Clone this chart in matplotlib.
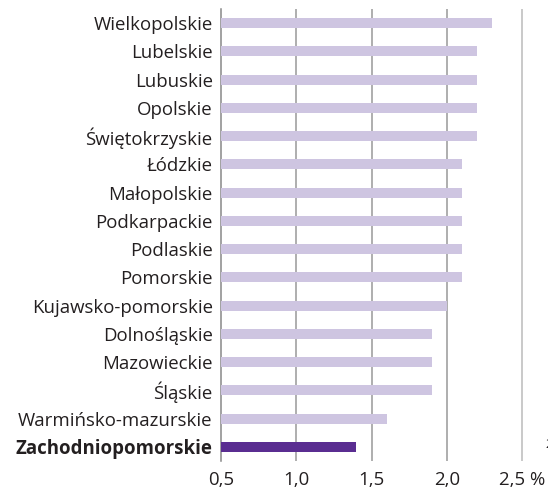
import matplotlib

matplotlib.use("Agg")
import matplotlib.pyplot as plt
import numpy as np

regions = [
    "Wielkopolskie", "Lubelskie", "Lubuskie", "Opolskie", "Świętokrzyskie",
    "Łódzkie", "Małopolskie", "Podkarpackie", "Podlaskie", "Pomorskie",
    "Kujawsko-pomorskie", "Dolnośląskie", "Mazowieckie", "Śląskie",
    "Warmińsko-mazurskie", "Zachodniopomorskie",
]
values = [2.3, 2.2, 2.2, 2.2, 2.2, 2.1, 2.1, 2.1, 2.1, 2.1,
          2.0, 1.9, 1.9, 1.9, 1.6, 1.4]
highlight = "Zachodniopomorskie"
xticks = [0.5, 1.0, 1.5, 2.0, 2.5]
xtick_labels = ["0,5", "1,0", "1,5", "2,0", "2,5 %"]

LIGHT = "#CEC5E1"
DARK = "#5A2D91"
FS = 13.4

plt.rcParams["font.family"] = ["Open Sans", "DejaVu Sans"]

fig = plt.figure(figsize=(5.48, 4.91), dpi=100)
ax = fig.add_axes([221 / 548, 1 - 461 / 491, (548 - 221) / 548, (461 - 9) / 491])

y = np.arange(len(regions))
colors = [DARK if r == highlight else LIGHT for r in regions]
base = 0.5
ax.barh(y, [v - base for v in values], left=base, height=0.36,
        color=colors, zorder=3)

ax.set_xlim(0.5, 0.5 + (548 - 221) / 150.5)
ax.set_ylim(len(regions) - 0.5, -0.5)

for x in xticks[1:]:
    c = "#BBBBBB" if x == 2.5 else "#999999"
    ax.axvline(x, color=c, linewidth=1.1, zorder=1)

for s in ["top", "right", "bottom"]:
    ax.spines[s].set_visible(False)
ax.spines["left"].set_color("#888888")
ax.spines["left"].set_linewidth(1.1)

ax.set_yticks(y)
ax.set_yticklabels(regions, fontsize=FS, color="#231F20")
for lbl in ax.get_yticklabels():
    if lbl.get_text() == highlight:
        lbl.set_fontweight("bold")
ax.tick_params(axis="y", length=0, pad=6)

ax.set_xticks(xticks)
ax.set_xticklabels(xtick_labels, fontsize=FS, color="#231F20")
ax.tick_params(axis="x", length=0, pad=7)

# label cut off at the right edge of the original
ax.text(2.652, 14.9, "2", fontsize=FS - 4, color="#231F20", ha="left",
        va="center", clip_on=False)

fig.savefig("out.png", dpi=100)
